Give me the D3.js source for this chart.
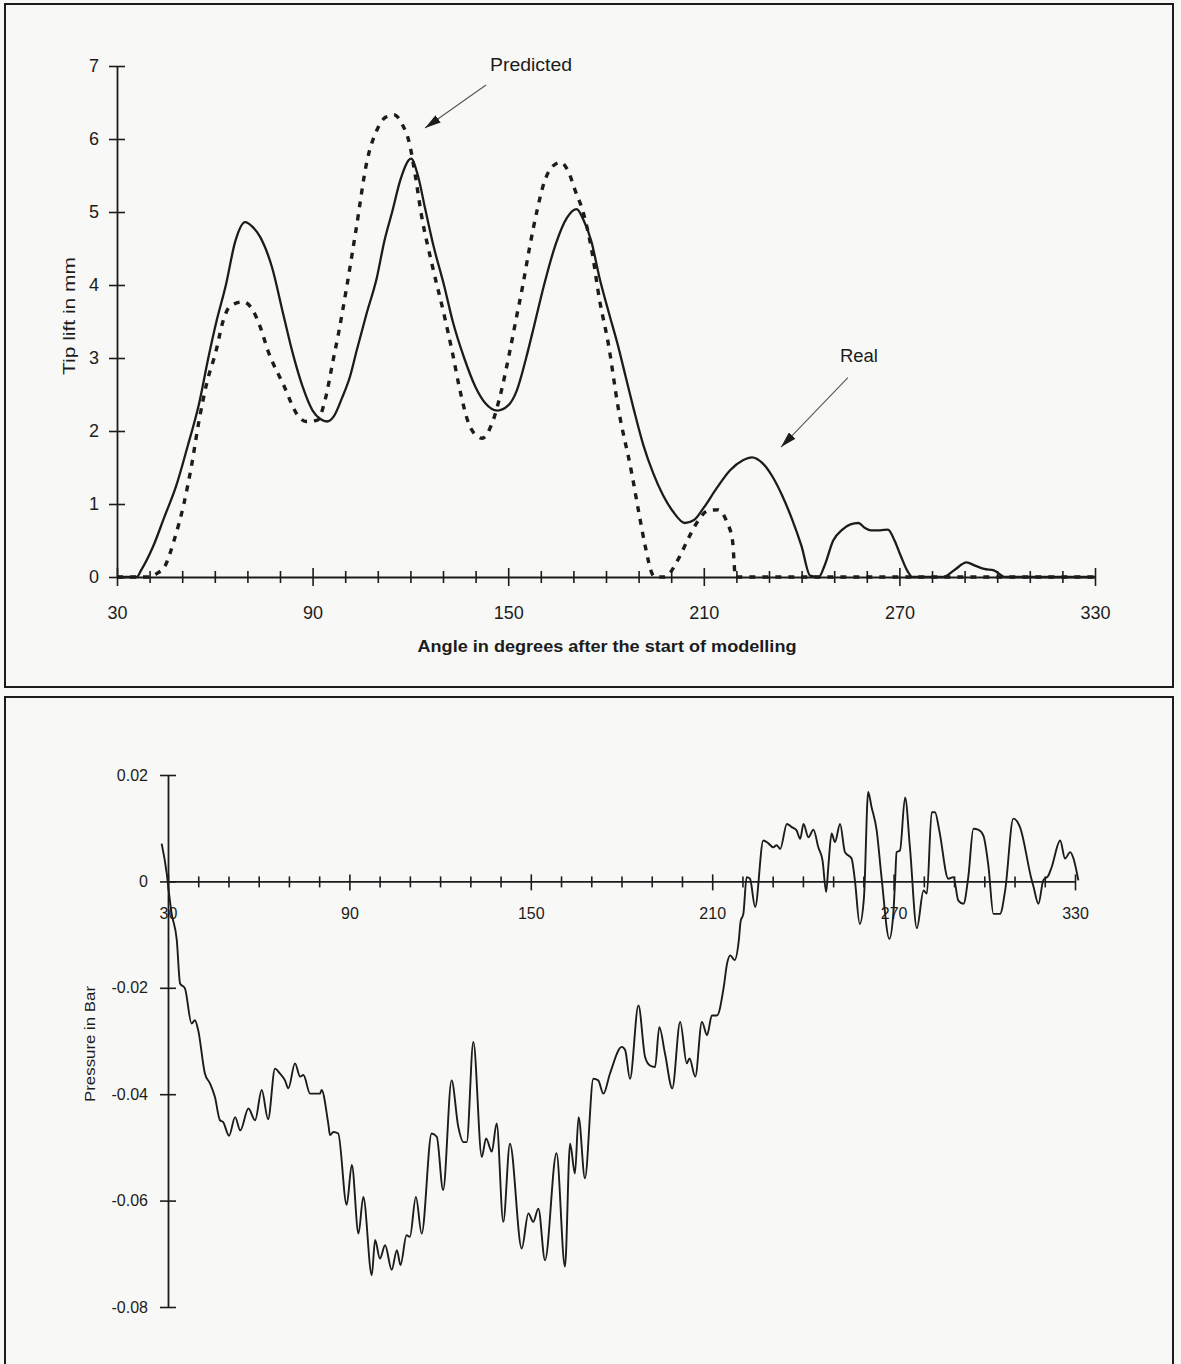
<!DOCTYPE html>
<html>
<head>
<meta charset="utf-8">
<script src="https://cdn.jsdelivr.net/npm/d3@7"></script>
<style>
  body { margin: 0; background: #f8f8f6; }
  svg { display: block; font-family: "Liberation Sans", Arial, sans-serif; }
</style>
</head>
<body>
<svg id="chart" width="1181" height="1364"></svg>
<script>
// ---- data ----
const angleLabels = [30, 90, 150, 210, 270, 330];
const liftTicks = [0, 1, 2, 3, 4, 5, 6, 7];
const pressTicks = [0.02, 0, -0.02, -0.04, -0.06, -0.08];

// real tip lift (solid)
const realAngle = [30, 36, 37.5, 41, 44.6, 48.1, 51.6, 55.2, 58.1, 60.5, 63.4, 66.3, 69.3, 71.5, 73.9, 77.5, 81, 84, 87, 90,
  92.5, 94.4, 96.5, 99, 101.5, 103.5, 106.5, 109.7, 112, 114.4, 117, 120.2, 122.3, 124.5, 127, 130.3, 133, 136.5, 140, 143,
  146.7, 150, 152.6, 155.5, 158, 161, 164.5, 168, 171, 173, 175.5, 178, 181, 183.5, 186, 188.5, 191.5, 194.5, 197.5, 200.5,
  204.2, 207, 210, 214, 218, 222, 224.8, 228, 231, 234, 237, 240, 242.6, 245.3, 247, 249.7, 252.5, 255, 257.4, 259.5,
  261.3, 264, 266.5, 268.5, 270.5, 272.5, 274, 283.5, 287, 290.6, 293, 296, 299, 302.4, 330];
const realLift = [0, 0, 0.1, 0.41, 0.83, 1.24, 1.78, 2.38, 3.02, 3.5, 4.0, 4.6, 4.86, 4.8, 4.66, 4.25, 3.6, 3.05, 2.6, 2.28,
  2.16, 2.13, 2.2, 2.45, 2.75, 3.1, 3.6, 4.1, 4.6, 5.0, 5.45, 5.73, 5.5, 5.05, 4.55, 4.0, 3.5, 3.0, 2.6, 2.38,
  2.28, 2.35, 2.55, 3.0, 3.45, 4.0, 4.55, 4.92, 5.04, 4.9, 4.6, 4.1, 3.6, 3.2, 2.75, 2.3, 1.8, 1.42, 1.12, 0.9,
  0.74, 0.78, 0.95, 1.22, 1.46, 1.6, 1.64, 1.56, 1.38, 1.12, 0.8, 0.42, 0.02, 0, 0.15, 0.5, 0.65, 0.72, 0.74, 0.67,
  0.64, 0.64, 0.65, 0.5, 0.28, 0.08, 0, 0, 0.1, 0.2, 0.16, 0.11, 0.09, 0, 0];

// predicted tip lift (dashed)
const predAngle = [30, 40, 42.3, 44.6, 47.5, 50.5, 52.8, 55.2, 57.5, 60.4, 62.5, 64.5, 68.6, 71.6, 73.9, 76.3, 80.9, 85.7, 88, 91.5,
  93.8, 96.3, 98, 100.3, 103.3, 106.7, 109.7, 112.5, 115, 117.5, 119.7, 121.5, 123.3, 126.8, 130.3, 133, 135, 137.9, 140.8, 142,
  145, 147.9, 150.3, 152.5, 154.5, 156.5, 159, 161, 163.5, 166.1, 168.5, 170.5, 173.1, 175.8, 178, 180.7, 183.7, 187.9, 190, 192,
  194.3, 195, 198, 202, 205.5, 208.4, 211.3, 214.3, 217.2, 218.8, 219.3, 219.6, 330];
const predLift = [0, 0, 0.05, 0.14, 0.5, 1.0, 1.51, 2.15, 2.65, 3.1, 3.5, 3.7, 3.77, 3.66, 3.43, 3.1, 2.65, 2.2, 2.13, 2.15,
  2.42, 2.97, 3.35, 3.93, 4.75, 5.7, 6.12, 6.3, 6.33, 6.2, 5.94, 5.5, 4.98, 4.25, 3.6, 3.05, 2.6, 2.1, 1.92, 1.9,
  2.1, 2.55, 3.05, 3.55, 4.0, 4.5, 5.05, 5.4, 5.62, 5.68, 5.55, 5.3, 4.98, 4.43, 3.8, 3.2, 2.33, 1.42, 0.9, 0.43,
  0.03, 0, 0, 0.23, 0.55, 0.78, 0.91, 0.92, 0.74, 0.5, 0.2, 0, 0];

// pressure in bar
const pressAngle = [27.9, 29.6, 30.1, 31.2, 32.9, 34.0, 35.6, 37.8, 38.9, 40.0, 42.2, 43.9, 45.5, 47.2, 48.2, 50.2, 52.2, 53.9, 56.6, 58.8,
  61.0, 63.1, 65.4, 67.0, 68.7, 69.8, 72.0, 73.7, 74.8, 77.0, 80.3, 80.8, 83.0, 83.6, 84.7, 86.3, 89.1, 90.8, 93.0, 94.6,
  97.4, 98.5, 100.1, 101.8, 104.0, 105.7, 106.9, 108.9, 110.0, 112.0, 113.9, 117.2, 118.9, 121.0, 123.8, 126.0, 127.7, 128.8, 131.0, 133.8,
  135.2, 137.1, 138.7, 140.9, 143.1, 147.0, 149.2, 150.8, 152.5, 154.7, 158.5, 161.3, 163.0, 164.6, 165.8, 167.9, 170.7, 172.3, 174.0, 176.2,
  180.1, 181.2, 182.8, 185.6, 187.8, 189.4, 191.1, 192.5, 194.4, 196.8, 199.4, 201.6, 202.5, 204.4, 206.6, 208.3, 209.9, 211.6, 213.8, 214.9,
  216.0, 217.4, 218.8, 219.4, 220.3, 221.4, 222.5, 224.2, 226.9, 228.5, 230.2, 231.3, 232.5, 234.7, 236.3, 237.9, 239.1, 240.2, 241.8, 243.5,
  245.1, 246.5, 247.7, 248.4, 249.5, 250.6, 252.3, 253.9, 256.1, 257.2, 258.8, 260.2, 261.6, 262.7, 264.4, 266.0, 268.6, 269.9, 270.5, 271.0,
  272.1, 273.8, 275.4, 277.7, 279.9, 281.0, 282.6, 283.7, 285.1, 288.1, 289.8, 291.4, 293.1, 294.7, 296.4, 298.1, 299.7, 301.4, 303.0, 305.2,
  306.9, 309.6, 311.8, 315.7, 316.2, 317.9, 319.5, 321.2, 322.3, 325.1, 326.7, 328.4, 329.5, 331.1];
const pressBar = [0.0071, 0.0014, -0.0011, -0.006, -0.011, -0.0192, -0.0201, -0.0267, -0.0261, -0.028, -0.0361, -0.038, -0.0405, -0.0449, -0.0452, -0.0478, -0.0443, -0.0468, -0.0427, -0.0449,
  -0.0392, -0.0447, -0.0352, -0.0361, -0.0374, -0.0389, -0.0342, -0.0367, -0.0364, -0.0399, -0.0399, -0.0392, -0.0455, -0.0477, -0.0471, -0.0474, -0.0608, -0.0533, -0.0662, -0.0593,
  -0.074, -0.0674, -0.0709, -0.0684, -0.073, -0.0693, -0.0721, -0.0665, -0.0668, -0.0593, -0.0662, -0.0474, -0.048, -0.058, -0.0374, -0.0461, -0.049, -0.049, -0.0302, -0.0518,
  -0.0483, -0.0508, -0.0455, -0.064, -0.0493, -0.069, -0.0624, -0.064, -0.0615, -0.0712, -0.0511, -0.0724, -0.0493, -0.0549, -0.0443, -0.0558, -0.0371, -0.0374, -0.0399, -0.0361,
  -0.0311, -0.0317, -0.0371, -0.0233, -0.033, -0.0346, -0.0349, -0.0274, -0.0324, -0.0389, -0.0264, -0.0342, -0.0333, -0.0367, -0.0264, -0.0289, -0.0252, -0.0252, -0.0199, -0.0155,
  -0.0139, -0.0148, -0.0111, -0.0075, -0.0061, 0.0008, 0.0005, -0.0048, 0.0077, 0.0072, 0.0064, 0.0068, 0.0061, 0.0108, 0.0102, 0.0096, 0.008, 0.0108, 0.0083, 0.0097,
  0.0064, 0.0039, -0.002, 0.0027, 0.009, 0.0074, 0.0108, 0.0055, 0.0043, 0.0002, -0.008, -0.003, 0.0168, 0.014, 0.0096, 0.0008, -0.0108, -0.0061, 0.0002, 0.0055,
  0.0058, 0.0158, 0.0064, -0.0088, -0.0017, -0.0023, 0.013, 0.013, 0.0096, 0.0005, 0.0008, -0.0036, -0.0042, 0.0008, 0.0099, 0.0097, 0.0086, 0.0027, -0.0061, -0.0061,
  -0.0017, 0.0118, 0.0102, 0.0002, -0.0008, -0.0042, 0.0002, 0.0011, 0.0027, 0.0077, 0.0043, 0.0055, 0.0043, 0.0002];

// ---- drawing ----
const ink = '#1c1c1c';
const svg = d3.select('#chart');
const angleTicks = d3.range(30, 331, 10);
const isMajor = d => angleLabels.includes(d);

// panel frames
svg.append('rect').attr('x', 5).attr('y', 4).attr('width', 1168).attr('height', 683)
  .attr('fill', 'none').attr('stroke', ink).attr('stroke-width', 2);
svg.append('rect').attr('x', 5).attr('y', 697).attr('width', 1168).attr('height', 700)
  .attr('fill', 'none').attr('stroke', ink).attr('stroke-width', 2);

const defs = svg.append('defs');
defs.append('marker').attr('id', 'arrow')
  .attr('viewBox', '0 0 16 9').attr('refX', 16).attr('refY', 4.5)
  .attr('markerWidth', 16).attr('markerHeight', 9)
  .attr('markerUnits', 'userSpaceOnUse').attr('orient', 'auto')
  .append('path').attr('d', 'M0,0L16,4.5L0,9Z').attr('fill', ink);

function styleAxis(g, size) {
  g.attr('font-family', null).attr('font-size', size);
  g.select('.domain').attr('stroke', ink).attr('stroke-width', 1.8);
  g.selectAll('.tick line').attr('stroke', ink).attr('stroke-width', 1.6);
  g.selectAll('.tick text').attr('fill', ink);
}

// ---------- top chart: tip lift ----------
const x1 = d3.scaleLinear().domain([30, 330]).range([117, 1095]);
const y1 = d3.scaleLinear().domain([0, 7]).range([577, 66]);

const topG = svg.append('g');

const liftLine = d3.line().curve(d3.curveMonotoneX);
topG.append('path')
  .attr('d', liftLine(predAngle.map((a, i) => [x1(a), y1(predLift[i])])))
  .attr('fill', 'none').attr('stroke', ink).attr('stroke-width', 3.4)
  .attr('stroke-dasharray', '6,7');

const xa1 = topG.append('g').attr('transform', `translate(0,${y1(0)})`)
  .call(d3.axisBottom(x1).tickValues(angleTicks).tickSizeOuter(0)
    .tickFormat(d => isMajor(d) ? d : ''));
styleAxis(xa1, 18);
xa1.selectAll('.tick line').attr('y1', d => isMajor(d) ? -9 : -6).attr('y2', d => isMajor(d) ? 9 : 6);
xa1.selectAll('.tick text').attr('y', 29);

const ya1 = topG.append('g').attr('transform', `translate(${x1(30)},0)`)
  .call(d3.axisLeft(y1).tickValues(liftTicks).tickSizeOuter(0).tickFormat(d3.format('d')));
styleAxis(ya1, 18);
ya1.selectAll('.tick line').attr('x1', -8).attr('x2', 8);
ya1.selectAll('.tick text').attr('x', -18);

topG.append('path')
  .attr('d', liftLine(realAngle.map((a, i) => [x1(a), y1(realLift[i])])))
  .attr('fill', 'none').attr('stroke', ink).attr('stroke-width', 2.3);

topG.append('text').attr('x', 607).attr('y', 652).attr('text-anchor', 'middle')
  .attr('font-size', 17).attr('font-weight', 'bold').attr('fill', ink)
  .attr('textLength', 379).attr('lengthAdjust', 'spacingAndGlyphs')
  .text('Angle in degrees after the start of modelling');

topG.append('text').attr('transform', 'translate(75,316) rotate(-90)').attr('text-anchor', 'middle')
  .attr('font-size', 17).attr('fill', ink)
  .attr('textLength', 118).attr('lengthAdjust', 'spacingAndGlyphs')
  .text('Tip lift in mm');

// annotations
function note(label, tx, ty, fromA, fromV, toA, toV, w) {
  topG.append('text').attr('x', x1(tx)).attr('y', y1(ty)).attr('text-anchor', 'middle')
    .attr('font-size', 18).attr('fill', ink)
    .attr('textLength', w).attr('lengthAdjust', 'spacingAndGlyphs')
    .text(label);
  topG.append('line')
    .attr('x1', x1(fromA)).attr('y1', y1(fromV)).attr('x2', x1(toA)).attr('y2', y1(toV))
    .attr('stroke', '#555').attr('stroke-width', 1.1).attr('marker-end', 'url(#arrow)');
}
note('Predicted', 157, 6.93, 143.2, 6.74, 124.5, 6.15, 82);
note('Real', 257.6, 2.95, 254.2, 2.73, 233.7, 1.78, 38);

// ---------- bottom chart: pressure ----------
const x2 = d3.scaleLinear().domain([30, 330]).range([168, 1075]);
const y2 = d3.scaleLinear().domain([-0.08, 0.02]).range([1307, 775]);

const botG = svg.append('g');

const xa2 = botG.append('g').attr('transform', `translate(0,${y2(0)})`)
  .call(d3.axisBottom(x2).tickValues(angleTicks).tickSizeOuter(0)
    .tickFormat(d => isMajor(d) ? d : ''));
styleAxis(xa2, 16);
xa2.selectAll('.tick line').attr('y1', d => isMajor(d) ? -7 : -5).attr('y2', d => isMajor(d) ? 9 : 6);
xa2.selectAll('.tick text').attr('y', 26);

const ya2 = botG.append('g').attr('transform', `translate(${x2(30)},0)`)
  .call(d3.axisLeft(y2).tickValues(pressTicks).tickSizeOuter(0)
    .tickFormat(d => d === 0 ? '0' : d.toFixed(2)));
styleAxis(ya2, 16);
ya2.selectAll('.tick line').attr('x1', -8).attr('x2', 8);
ya2.selectAll('.tick text').attr('x', -20);

botG.append('path')
  .attr('d', d3.line().curve(d3.curveMonotoneX)(pressAngle.map((a, i) => [x2(a), y2(pressBar[i])])))
  .attr('fill', 'none').attr('stroke', ink).attr('stroke-width', 1.9);

botG.append('text').attr('transform', 'translate(95,1044) rotate(-90)').attr('text-anchor', 'middle')
  .attr('font-size', 15).attr('fill', ink)
  .attr('textLength', 116).attr('lengthAdjust', 'spacingAndGlyphs')
  .text('Pressure in Bar');
</script>
</body>
</html>
